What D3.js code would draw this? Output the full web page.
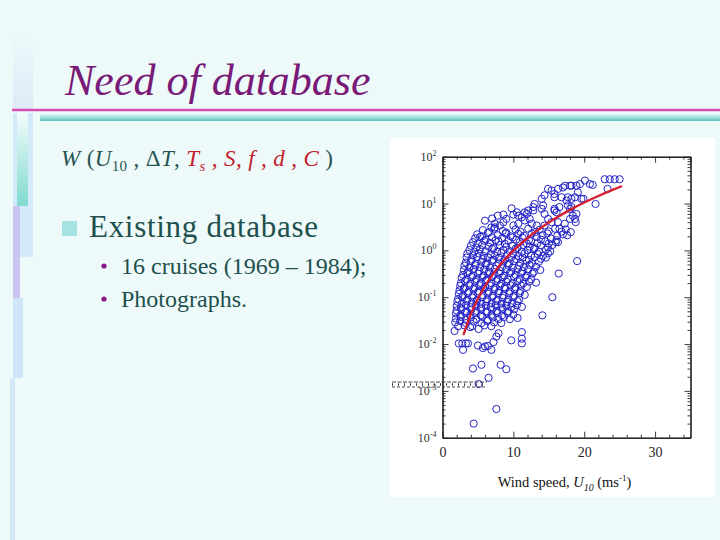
<!DOCTYPE html>
<html><head><meta charset="utf-8">
<script src="https://cdn.jsdelivr.net/npm/d3@7"></script>
<style>body{margin:0;background:#eefafa;} svg{display:block}</style>
</head><body><svg id="c" width="720" height="540"></svg>
<script>
// ---------------- data ----------------
const slideTitle = "Need of database";
const bulletMain = "Existing database";
const subBullets = ["16 cruises (1969 \u2013 1984);", "Photographs."];
const xTickValues = [0, 10, 20, 30];
const yTickExponents = [-4, -3, -2, -1, 0, 1, 2];
const xAxisTitle = ["Wind speed, ", "U", "10", " (ms", "-1", ")"];
// fitted curve: wind speed (m/s) and whitecap coverage W (%)
const curveWind = [3, 4, 5, 6, 7, 8, 10, 12, 14, 16, 18, 20, 22, 24, 25.2];
const curveW = [0.0163, 0.0434, 0.093, 0.173, 0.292, 0.461, 0.987, 1.84, 3.11, 4.90, 7.32, 10.5, 14.5, 19.5, 23.1];
// observations [wind speed, W %]
const obsUpper = [
[22.9,33],[23.6,33],[24.3,33],[25.0,33],[20.1,31],
[20.8,26],[21.2,25],[19.4,26],[18.9,24],[18.0,24],[17.0,22],[16.3,20.5],[14.9,20.5],[17.3,24],[18.2,24],
[23.3,20.5],[15.4,19],[19.1,17.4],[15.8,16],
[14.4,15],[14.0,12.6],[18.2,12.6],[18.7,13.6],[16.8,13.6],[17.5,11.6],[19.6,12.6],[19.9,12.6],[17.7,13.6],[15.8,13.6],
[21.6,9.8],[17.7,9.1],[18.2,8.4],[18.0,7.7],[15.8,7.7],[16.5,8.4],[14.2,9.1],[14.0,7.7],[13.0,9.8],[12.8,8.4],[12.8,7.1],[12.1,7.1],[9.75,7.9],
[16.1,6.5],[14.4,6.0],[11.9,6.0],[10.5,6.5],[10.7,5.5],[11.2,5.1],[18.4,5.5],[18.9,6.0],[15.8,7.1],
[11.6,4.35],[12.3,4.7],[9.0,4.7],[8.6,4.0],[14.9,4.7],[15.4,4.0],[18.7,4.7],[18.0,4.7],[16.3,4.0],[17.25,3.7],[18.8,4.0],
[8.1,3.4],[7.4,3.1],[6.9,3.1],[10.0,3.4],[10.7,3.7],[12.6,3.7],[13.3,3.4],[14.4,3.4],
[6.0,4.3],[7.0,4.8],[7.8,5.5],[8.6,5.8],[10.0,5.8],[11.6,6.5],[7.4,3.7],
[17.6,2.1],[18.1,2.45],[16.5,2.9],[16.3,1.5],[19.0,0.59],[16.4,0.32],[15.5,0.1]
];
const obsCloud = [
[5.7,2.7],[6.6,2.45],[7.3,2.9],[8.5,2.6],[9.0,2.4],[10.3,2.8],[11.0,2.5],[12.1,2.9],[13.1,2.45],[13.7,2.75],[15.0,2.55],[15.9,2.9],[16.8,2.5],[17.4,2.8],
[4.9,2.2],[5.6,2.0],[6.4,2.35],[7.8,2.1],[8.9,2.3],[9.6,2.0],[10.7,2.25],[11.5,2.05],[12.6,2.3],[14.1,2.1],[14.8,2.3],[16.2,2.05],[17.0,2.2],
[4.6,1.8],[5.3,1.95],[6.1,1.7],[7.0,1.9],[7.5,1.65],[8.4,1.8],[9.9,1.9],[10.4,1.7],[11.3,1.85],[12.2,1.65],[13.3,1.95],[13.9,1.7],[15.3,1.8],[16.1,1.65],
[4.3,1.5],[5.0,1.4],[5.9,1.6],[6.7,1.45],[7.9,1.55],[8.8,1.38],[9.3,1.6],[10.9,1.5],[11.9,1.4],[12.5,1.58],[13.4,1.42],[14.5,1.55],[15.0,1.4],[16.0,1.5],
[4.0,1.25],[4.8,1.15],[5.6,1.3],[6.5,1.2],[7.2,1.12],[8.1,1.3],[9.0,1.18],[9.8,1.25],[10.6,1.14],[11.4,1.3],[12.3,1.2],[13.0,1.12],[13.9,1.28],[14.9,1.16],[15.5,1.3],
[3.8,1.02],[4.5,0.94],[5.3,1.06],[6.1,0.95],[7.0,1.08],[7.7,0.93],[8.6,1.02],[9.5,0.96],[10.3,1.07],[11.2,0.92],[12.0,1.0],[12.9,1.06],[13.6,0.94],[14.6,1.03],[15.2,0.95],
[3.5,0.85],[4.3,0.78],[5.1,0.86],[5.8,0.76],[6.8,0.83],[7.4,0.77],[8.3,0.88],[9.1,0.79],[10.0,0.85],[10.7,0.76],[11.6,0.86],[12.5,0.78],[13.4,0.84],[14.2,0.77],[14.9,0.86],
[3.4,0.7],[4.1,0.64],[4.9,0.72],[5.7,0.65],[6.4,0.71],[7.2,0.63],[8.0,0.7],[8.8,0.64],[9.7,0.72],[10.4,0.65],[11.3,0.7],[12.2,0.63],[13.0,0.72],[13.9,0.66],[14.6,0.7],
[3.3,0.55],[4.0,0.59],[4.7,0.52],[5.5,0.57],[6.2,0.53],[7.0,0.6],[7.9,0.53],[8.6,0.58],[9.4,0.52],[10.1,0.59],[11.0,0.54],[11.8,0.6],[12.6,0.53],[13.6,0.57],
[3.1,0.47],[3.8,0.43],[4.6,0.48],[5.3,0.44],[6.1,0.49],[6.7,0.43],[7.6,0.47],[8.4,0.44],[9.2,0.49],[9.9,0.43],[10.8,0.47],[11.5,0.44],[12.3,0.49],[13.2,0.45],
[3.0,0.38],[3.7,0.35],[4.4,0.4],[5.2,0.36],[5.9,0.39],[6.6,0.35],[7.4,0.4],[8.2,0.36],[9.0,0.39],[9.7,0.35],[10.6,0.4],[11.3,0.36],[12.1,0.39],[12.9,0.35],[13.8,0.38],
[2.9,0.3],[3.5,0.33],[4.3,0.29],[5.0,0.32],[5.8,0.29],[6.5,0.33],[7.2,0.3],[8.0,0.32],[8.7,0.29],[9.5,0.33],[10.3,0.3],[11.1,0.32],[11.9,0.29],[12.7,0.32],
[2.7,0.26],[3.4,0.24],[4.1,0.27],[4.8,0.245],[5.6,0.265],[6.3,0.24],[7.0,0.27],[7.8,0.245],[8.5,0.265],[9.2,0.24],[10.1,0.27],[10.9,0.245],[11.7,0.265],[12.5,0.24],
[2.6,0.2],[3.2,0.22],[3.9,0.195],[4.6,0.215],[5.4,0.2],[6.1,0.225],[6.9,0.2],[7.6,0.22],[8.3,0.195],[9.0,0.215],[9.9,0.2],[10.6,0.22],[11.4,0.198],[12.2,0.215],[13.2,0.205],
[2.5,0.175],[3.1,0.16],[3.8,0.178],[4.5,0.162],[5.2,0.18],[6.0,0.165],[6.7,0.178],[7.4,0.16],[8.1,0.175],[8.8,0.163],[9.6,0.18],[10.3,0.162],[11.1,0.177],[11.9,0.165],
[2.4,0.14],[3.0,0.15],[3.7,0.132],[4.4,0.147],[5.1,0.135],[5.8,0.15],[6.5,0.133],[7.3,0.146],[8.0,0.135],[8.8,0.15],[9.5,0.134],[10.2,0.147],[11.0,0.136],
[2.3,0.118],[2.9,0.108],[3.6,0.122],[4.3,0.11],[5.0,0.124],[5.7,0.11],[6.4,0.12],[7.1,0.108],[7.9,0.123],[8.6,0.11],[9.4,0.12],[10.1,0.108],[10.9,0.122],[11.6,0.112],
[2.2,0.092],[2.8,0.1],[3.5,0.089],[4.2,0.098],[4.9,0.088],[5.6,0.1],[6.3,0.09],[7.0,0.099],[7.8,0.088],[8.5,0.097],[9.3,0.09],[10.0,0.1],[10.8,0.089],
[2.1,0.08],[2.7,0.073],[3.4,0.083],[4.1,0.074],[4.8,0.082],[5.5,0.072],[6.2,0.081],[6.9,0.074],[7.6,0.083],[8.3,0.073],[9.1,0.08],[9.8,0.074],[10.6,0.082],
[2.0,0.065],[2.6,0.06],[3.3,0.068],[4.0,0.061],[4.7,0.067],[5.4,0.06],[6.1,0.066],[6.8,0.061],[7.5,0.068],[8.3,0.06],[9.0,0.066],[9.7,0.061],[10.5,0.067],[11.2,0.062],
[2.0,0.052],[2.7,0.056],[3.4,0.05],[4.1,0.055],[4.8,0.051],[5.5,0.056],[6.3,0.05],[7.0,0.055],[7.7,0.051],[8.5,0.056],[9.3,0.05],[10.1,0.055],
[1.9,0.045],[2.5,0.041],[3.2,0.047],[3.9,0.042],[4.6,0.046],[5.4,0.041],[6.2,0.047],[6.9,0.042],[7.7,0.046],[8.4,0.041],[9.2,0.046],[10.0,0.042],
[1.9,0.035],[2.6,0.038],[3.3,0.033],[4.0,0.037],[4.8,0.034],[5.6,0.038],[6.4,0.033],[7.1,0.037],[7.9,0.034],[8.7,0.038],[9.5,0.034],[10.6,0.036],
[1.8,0.029],[2.5,0.031],[3.3,0.028],[4.4,0.03],[5.5,0.028],[6.3,0.031],[7.3,0.029],[8.3,0.028],
[2.2,0.024],[3.1,0.025],[4.2,0.024],[5.9,0.025],[6.9,0.024]
];
const obsLower = [
[1.7,0.019],[2.3,0.0103],[2.8,0.0103],[3.3,0.0103],[3.6,0.0103],[2.9,0.0075],[5.7,0.0082],[6.0,0.0089],[5.0,0.0093],
[6.9,0.0075],[6.4,0.0091],[7.2,0.011],[7.6,0.0144],[7.9,0.017],[5.1,0.021],[3.9,0.023],[11.2,0.018],[11.2,0.013],
[11.2,0.0103],[9.7,0.012],[14.1,0.041],[8.2,0.0036],[9.0,0.0029],[5.5,0.0036],[4.3,0.003],[6.5,0.0019],[5.1,0.0014],
[7.6,0.00041],[4.4,0.0002]
];
const observations = obsUpper.concat(obsCloud, obsLower);

// ---------------- drawing ----------------
const svg = d3.select("#c");
const serif = "'Liberation Serif','Times New Roman',serif";
const defs = svg.append("defs");
function vgrad(id, stops){
  const g = defs.append("linearGradient").attr("id", id).attr("x1",0).attr("y1",0).attr("x2",0).attr("y2",1);
  stops.forEach(s => g.append("stop").attr("offset", s[0]).attr("stop-color", s[1]));
}
vgrad("tealbar", [[0,"#e4f7f6"],[0.5,"#9fe0da"],[1,"#5cc6be"]]);
vgrad("tealstrip", [[0,"#f3fbfc"],[1,"#7fdacd"]]);
vgrad("faint", [[0,"#eef9fb"],[1,"#dde9f6"]]);

svg.append("rect").attr("width",720).attr("height",540).attr("fill","#eefafa");

// left decorations
svg.append("rect").attr("x",13).attr("y",35).attr("width",20).attr("height",74).attr("fill","url(#faint)");
svg.append("rect").attr("x",13).attr("y",113).attr("width",20).attr("height",144).attr("fill","#d3eafa");
svg.append("rect").attr("x",17).attr("y",113).attr("width",11).attr("height",93).attr("fill","url(#tealstrip)");
svg.append("rect").attr("x",13).attr("y",206).attr("width",7).attr("height",92).attr("fill","#c9c4f1");
svg.append("rect").attr("x",13).attr("y",298).attr("width",10).attr("height",80).attr("fill","#cfe6f9");
svg.append("rect").attr("x",10).attr("y",378).attr("width",5).attr("height",162).attr("fill","#d3e7f8");

// title
svg.append("text").attr("x",65).attr("y",95).attr("font-family",serif).attr("font-style","italic")
  .attr("font-size",44).attr("fill","#7a1a78").text(slideTitle);
svg.append("line").attr("x1",12).attr("x2",720).attr("y1",110).attr("y2",110).attr("stroke","#d84db0").attr("stroke-width",2.5);
svg.append("rect").attr("x",40).attr("y",114).attr("width",680).attr("height",7).attr("fill","url(#tealbar)");

// formula line
const dark = "#275453", red = "#c0202c";
const f = svg.append("text").attr("x",61).attr("y",166).attr("font-family",serif).attr("font-size",23).attr("fill",dark)
  .attr("textLength",272).attr("lengthAdjust","spacing");
const parts = [
  ["W", dark, true, 0, 23], [" (", dark, false, 0, 23], ["U", dark, true, 0, 23], ["10", dark, false, 5, 15],
  [" , \u0394", dark, false, -5, 23], ["T", dark, true, 0, 23], [", ", dark, false, 0, 23],
  ["T", red, true, 0, 23], ["s", red, true, 5, 15], [" , ", red, true, -5, 23], ["S", red, true, 0, 23], [", ", red, true, 0, 23],
  ["f", red, true, 0, 23], [" , ", red, true, 0, 23], ["d", red, true, 0, 23], [" , ", red, true, 0, 23], ["C", red, true, 0, 23],
  [" )", dark, false, 0, 23]
];
parts.forEach(p => f.append("tspan").attr("fill",p[1]).attr("font-style",p[2]?"italic":"normal")
  .attr("dy",p[3]).attr("font-size",p[4]).text(p[0]));

// bullets
svg.append("rect").attr("x",62).attr("y",221).attr("width",15).attr("height",15).attr("fill","#a6e2e2");
svg.append("text").attr("x",89).attr("y",237).attr("font-family",serif).attr("font-size",31).attr("fill","#1d4f4d")
  .attr("textLength",229).attr("lengthAdjust","spacing").text(bulletMain);
subBullets.forEach((s,i) => {
  svg.append("circle").attr("cx",104).attr("cy",266 + i*33).attr("r",2.6).attr("fill","#8a1a88");
  svg.append("text").attr("x",121).attr("y",274 + i*33).attr("font-family",serif).attr("font-size",24).attr("fill","#1d4f4d").text(s);
});

// plot panel
svg.append("rect").attr("x",390).attr("y",138).attr("width",325).attr("height",359).attr("fill","#ffffff");

const x = d3.scaleLinear().domain([0,35]).range([442.5,690.5]);
const y = d3.scaleLog().domain([1e-4,1e2]).range([437.7,156.7]);

const ax = svg.append("g").attr("class","axes");
const majorY = yTickExponents.map(e => Math.pow(10,e));
const minorY = y.ticks().filter(v => !majorY.some(m => Math.abs(m - v) / m < 1e-9));
const minorX = d3.range(0,35,2).filter(v => v % 10 !== 0);
function styleAxis(g){
  g.selectAll("path.domain").attr("stroke","#111").attr("stroke-width",1);
  g.selectAll(".tick line").attr("stroke","#222").attr("stroke-width",0.9);
}
const B = y.range()[0], T = y.range()[1], L = x.range()[0], R = x.range()[1];
ax.append("g").attr("transform",`translate(0,${B})`)
  .call(d3.axisBottom(x).tickValues(xTickValues).tickSizeInner(-6).tickSizeOuter(0).tickPadding(9).tickFormat(d3.format("d")))
  .call(styleAxis).call(g => g.selectAll("text").attr("font-family",serif).attr("font-size",14).attr("fill","#222"));
ax.append("g").attr("transform",`translate(0,${B})`)
  .call(d3.axisBottom(x).tickValues(minorX).tickSizeInner(-3).tickSizeOuter(0).tickFormat("")).call(styleAxis);
ax.append("g").attr("transform",`translate(0,${T})`)
  .call(d3.axisTop(x).tickValues(xTickValues.concat([35])).tickSizeInner(-6).tickSizeOuter(0).tickFormat("")).call(styleAxis);
ax.append("g").attr("transform",`translate(0,${T})`)
  .call(d3.axisTop(x).tickValues(minorX).tickSizeInner(-3).tickSizeOuter(0).tickFormat("")).call(styleAxis);
ax.append("g").attr("transform",`translate(${L},0)`)
  .call(d3.axisLeft(y).tickValues(majorY).tickSizeInner(-6).tickSizeOuter(0).tickFormat("")).call(styleAxis);
ax.append("g").attr("transform",`translate(${L},0)`)
  .call(d3.axisLeft(y).tickValues(minorY).tickSizeInner(-3).tickSizeOuter(0).tickFormat("")).call(styleAxis);
ax.append("g").attr("transform",`translate(${R},0)`)
  .call(d3.axisRight(y).tickValues(majorY).tickSizeInner(-6).tickSizeOuter(0).tickFormat("")).call(styleAxis);
ax.append("g").attr("transform",`translate(${R},0)`)
  .call(d3.axisRight(y).tickValues(minorY).tickSizeInner(-3).tickSizeOuter(0).tickFormat("")).call(styleAxis);

// y tick labels 10^n
const yl = ax.append("g").selectAll("text").data(yTickExponents).join("text")
  .attr("x", L - 6).attr("y", e => y(Math.pow(10,e)) + 4)
  .attr("text-anchor","end").attr("font-family",serif).attr("font-size",12).attr("fill","#333");
yl.append("tspan").text("10");
yl.append("tspan").attr("dy",-5).attr("font-size",8).text(e => String(e));

// x axis title
const xt = svg.append("text").attr("x",(L+R)/2 - 2).attr("y",487).attr("text-anchor","middle")
  .attr("font-family",serif).attr("font-size",14.5).attr("fill","#111");
xt.append("tspan").text(xAxisTitle[0]);
xt.append("tspan").attr("font-style","italic").text(xAxisTitle[1]);
xt.append("tspan").attr("font-style","italic").attr("font-size",10).attr("dy",4).text(xAxisTitle[2]);
xt.append("tspan").attr("dy",-4).text(xAxisTitle[3]);
xt.append("tspan").attr("font-size",9).attr("dy",-6).text(xAxisTitle[4]);
xt.append("tspan").attr("dy",6).text(xAxisTitle[5]);

// observations
svg.append("g").selectAll("circle").data(observations).join("circle")
  .attr("cx", d => x(d[0])).attr("cy", d => y(d[1])).attr("r",3.6)
  .attr("fill","none").attr("stroke","#2424c8").attr("stroke-width",1);

// fitted curve
const curve = curveWind.map((u,i) => [u, curveW[i]]);
svg.append("path").datum(curve)
  .attr("d", d3.line().x(d => x(d[0])).y(d => y(d[1])).curve(d3.curveMonotoneX))
  .attr("fill","none").attr("stroke","#d41f30").attr("stroke-width",2.4).attr("stroke-linecap","round");

// scanning artefact (garbled strip) over the 10^-3 label, drawn as marks
const art = svg.append("g").attr("stroke","#333").attr("stroke-width",0.9).attr("fill","none");
art.append("line").attr("x1",392).attr("x2",487).attr("y1",382).attr("y2",382).attr("stroke-dasharray","4,1.5");
art.append("line").attr("x1",392).attr("x2",487).attr("y1",387).attr("y2",387).attr("stroke-dasharray","3,2");
art.append("line").attr("x1",392).attr("x2",487).attr("y1",384.5).attr("y2",384.5).attr("stroke-dasharray","1,5").attr("stroke-width",2.5);
</script></body></html>
